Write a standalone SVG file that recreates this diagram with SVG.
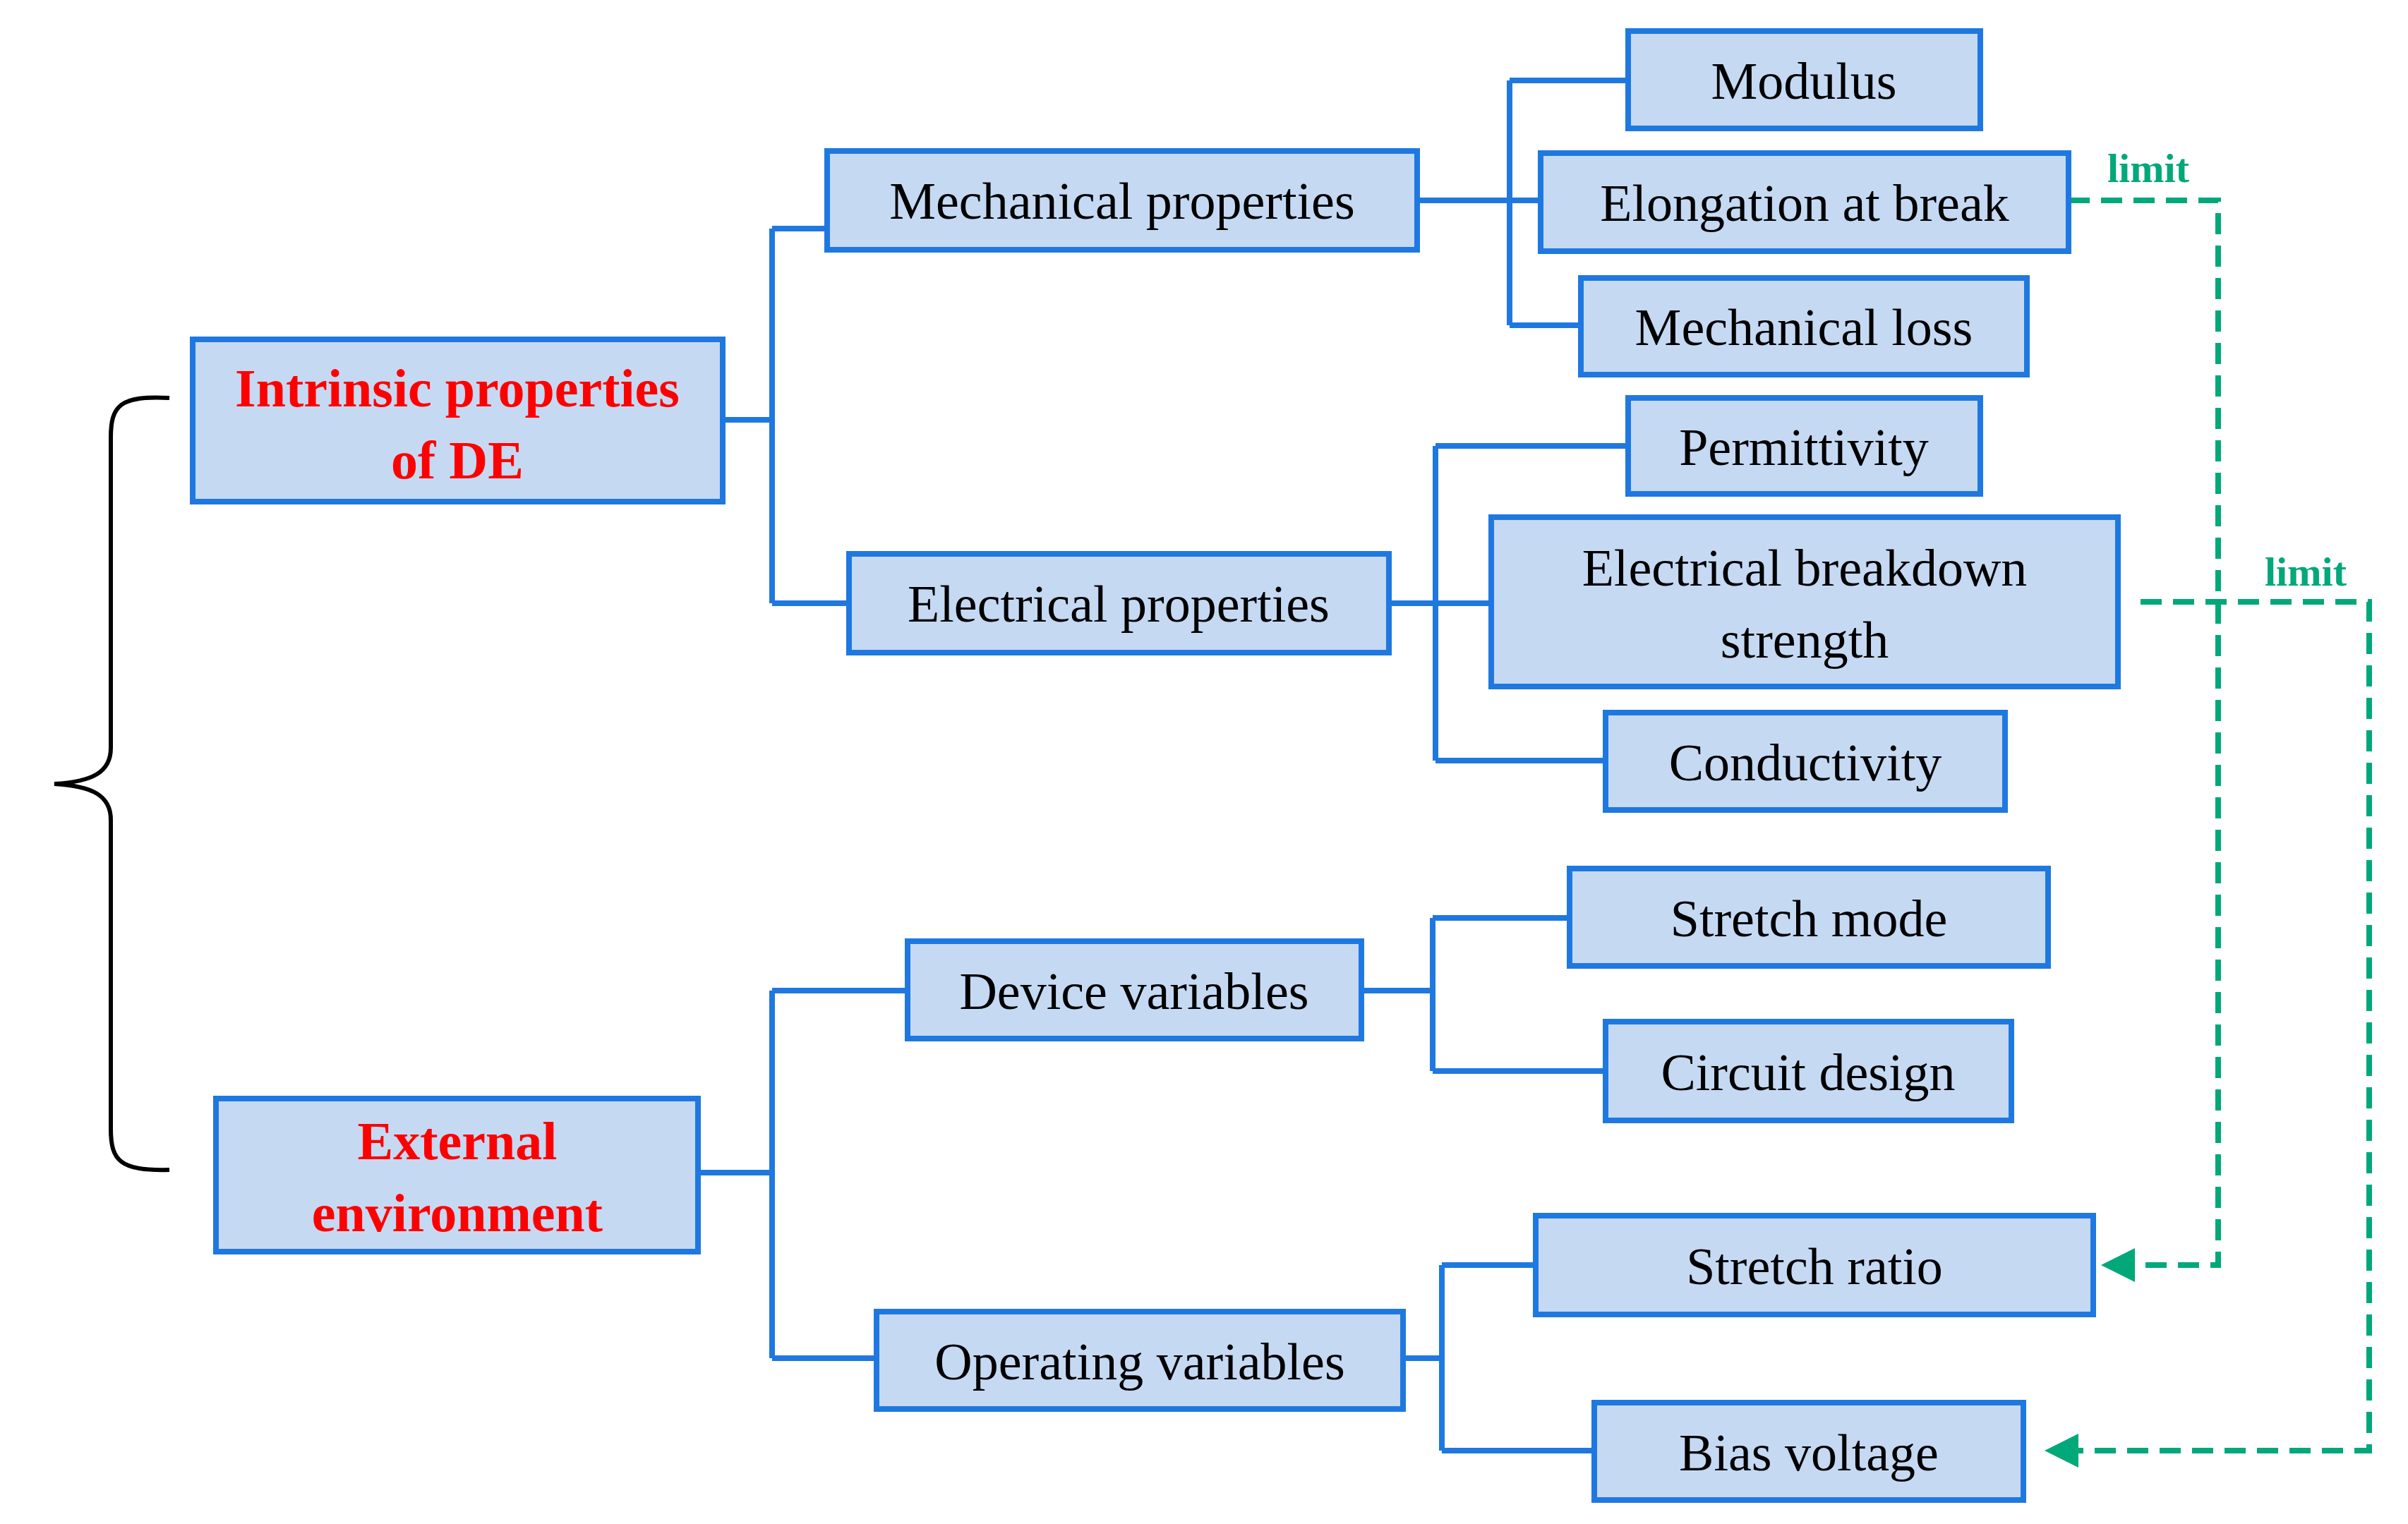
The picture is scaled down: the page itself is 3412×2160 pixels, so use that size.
<svg xmlns="http://www.w3.org/2000/svg" width="3412" height="2160" viewBox="0 0 3412 2160">
<style>
.b{fill:#c5d9f3;stroke:#1f78e0;stroke-width:8}
.t{font-family:"Liberation Serif",serif;font-size:74px;fill:#000;text-anchor:middle}
.r{font-family:"Liberation Serif",serif;font-size:76px;fill:#ff0000;font-weight:bold;text-anchor:middle}
.c{fill:none;stroke:#1f78e0;stroke-width:8}
.d{fill:none;stroke:#00a87a;stroke-width:8;stroke-dasharray:30 16}
.l{font-family:"Liberation Serif",serif;font-size:58px;fill:#00a87a;font-weight:bold;text-anchor:middle}
</style>
<defs><marker id="a" markerWidth="6" markerHeight="6" refX="5" refY="3" orient="auto" markerUnits="strokeWidth"><path d="M0,0L6,3L0,6z" fill="#00a87a"/></marker></defs>
<rect width="3412" height="2160" fill="#fff"/>
<g id="connectors">
<path class="c" d="M1024,595H1094M1094,324V855M1094,324H1172M1094,855H1203"/>
<path class="c" d="M2008,284H2183M2139,114V461M2139,114H2307M2139,461H2240"/>
<path class="c" d="M1968,855H2113M2034,632V1078M2034,632H2307M2034,1078H2275"/>
<path class="c" d="M989,1662H1094M1094,1404V1925M1094,1404H1286M1094,1925H1242"/>
<path class="c" d="M1929,1404H2030M2030,1301V1518M2030,1301H2224M2030,1518H2275"/>
<path class="c" d="M1988,1925H2043M2043,1793V2056M2043,1793H2176M2043,2056H2259"/>
<path d="M240,564C170,560 157,575 157,620V1060C157,1095 130,1108 77,1111C130,1114 157,1127 157,1162V1600C157,1645 170,1660 240,1658" fill="none" stroke="#000" stroke-width="6"/>
<path class="d" d="M2931,284H3143V1793H2985" marker-end="url(#a)"/>
<path class="d" d="M3033,853H3357V2056H2905" marker-end="url(#a)"/>
<text class="l" x="3044" y="258">limit</text>
<text class="l" x="3267" y="830">limit</text>
</g>
<g id="n1"><rect class="b" x="273" y="481" width="751" height="230"/><text class="r" x="648" y="576">Intrinsic properties</text><text class="r" x="648" y="678">of DE</text></g>
<g id="n2"><rect class="b" x="306" y="1557" width="683" height="217"/><text class="r" x="648" y="1643">External</text><text class="r" x="648" y="1745">environment</text></g>
<g id="n3"><rect class="b" x="1172" y="214" width="836" height="140"/><text class="t" x="1590" y="310">Mechanical properties</text></g>
<g id="n4"><rect class="b" x="1203" y="785" width="765" height="140"/><text class="t" x="1585" y="881">Electrical properties</text></g>
<g id="n5"><rect class="b" x="1286" y="1334" width="643" height="138"/><text class="t" x="1607" y="1430">Device variables</text></g>
<g id="n6"><rect class="b" x="1242" y="1859" width="746" height="138"/><text class="t" x="1615" y="1955">Operating variables</text></g>
<g id="n7"><rect class="b" x="2307" y="44" width="499" height="138"/><text class="t" x="2556" y="140">Modulus</text></g>
<g id="n8"><rect class="b" x="2183" y="217" width="748" height="139"/><text class="t" x="2557" y="313">Elongation at break</text></g>
<g id="n9"><rect class="b" x="2240" y="394" width="632" height="137"/><text class="t" x="2556" y="489">Mechanical loss</text></g>
<g id="n10"><rect class="b" x="2307" y="564" width="499" height="136"/><text class="t" x="2556" y="659">Permittivity</text></g>
<g id="n11"><rect class="b" x="2113" y="733" width="888" height="240"/><text class="t" x="2557" y="830">Electrical breakdown</text><text class="t" x="2557" y="932">strength</text></g>
<g id="n12"><rect class="b" x="2275" y="1010" width="566" height="138"/><text class="t" x="2558" y="1106">Conductivity</text></g>
<g id="n13"><rect class="b" x="2224" y="1231" width="678" height="138"/><text class="t" x="2563" y="1327">Stretch mode</text></g>
<g id="n14"><rect class="b" x="2275" y="1448" width="575" height="140"/><text class="t" x="2562" y="1545">Circuit design</text></g>
<g id="n15"><rect class="b" x="2176" y="1723" width="790" height="140"/><text class="t" x="2571" y="1820">Stretch ratio</text></g>
<g id="n16"><rect class="b" x="2259" y="1988" width="608" height="138"/><text class="t" x="2563" y="2084">Bias voltage</text></g>
</svg>
